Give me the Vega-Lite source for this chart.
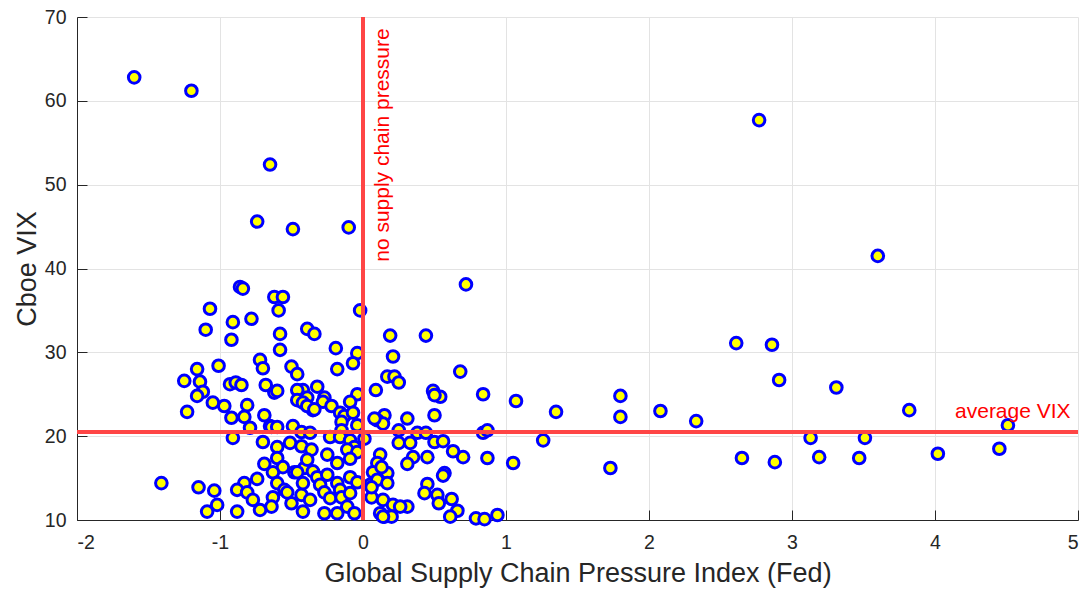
{
  "$schema": "https://vega.github.io/schema/vega-lite/v6.json",
  "width": 1001,
  "height": 503,
  "autosize": {"type": "none"},
  "padding": {"left": 77, "top": 17, "right": 11, "bottom": 71},
  "background": "white",
  "config": {
    "view": {"stroke": null},
    "font": "Liberation Sans",
    "axis": {
      "domainColor": "#262626",
      "domainWidth": 1,
      "tickColor": "#262626",
      "tickSize": -10,
      "labelColor": "#262626",
      "labelFont": "Liberation Sans",
      "labelFontSize": 19.5,
      "titleFont": "Liberation Sans",
      "titleFontSize": 27,
      "titleFontWeight": "normal",
      "titleColor": "#262626",
      "gridColor": "#e3e3e3",
      "gridWidth": 1
    }
  },
  "datasets": {
    "pts": [
      {"gscpi": -1.60, "vix": 62.8}, {"gscpi": -1.20, "vix": 61.2}, {"gscpi": -0.65, "vix": 52.4}, {"gscpi": -0.74, "vix": 45.6},
      {"gscpi": -0.49, "vix": 44.7}, {"gscpi": -0.10, "vix": 44.9}, {"gscpi": 2.77, "vix": 57.7}, {"gscpi": 3.60, "vix": 41.5},
      {"gscpi": 0.72, "vix": 38.1}, {"gscpi": -0.62, "vix": 36.6}, {"gscpi": -0.56, "vix": 36.6}, {"gscpi": -0.59, "vix": 35.0},
      {"gscpi": -0.02, "vix": 35.0}, {"gscpi": -0.86, "vix": 37.8}, {"gscpi": -0.84, "vix": 37.6}, {"gscpi": -1.07, "vix": 35.2},
      {"gscpi": -1.10, "vix": 32.7}, {"gscpi": -0.91, "vix": 33.6}, {"gscpi": -0.78, "vix": 34.0}, {"gscpi": -0.92, "vix": 31.5},
      {"gscpi": -0.58, "vix": 32.2}, {"gscpi": -0.39, "vix": 32.8}, {"gscpi": -0.34, "vix": 32.2}, {"gscpi": 0.19, "vix": 32.0},
      {"gscpi": 0.44, "vix": 32.0}, {"gscpi": -0.58, "vix": 30.3}, {"gscpi": -0.19, "vix": 30.5}, {"gscpi": -0.04, "vix": 29.9},
      {"gscpi": -0.07, "vix": 28.7}, {"gscpi": 0.21, "vix": 29.5}, {"gscpi": -0.50, "vix": 28.3}, {"gscpi": -0.46, "vix": 27.4},
      {"gscpi": -0.18, "vix": 28.0}, {"gscpi": -0.72, "vix": 29.1}, {"gscpi": -0.70, "vix": 28.1}, {"gscpi": -1.01, "vix": 28.4},
      {"gscpi": -1.16, "vix": 28.0}, {"gscpi": 0.68, "vix": 27.7}, {"gscpi": -1.25, "vix": 26.6}, {"gscpi": -1.14, "vix": 26.5},
      {"gscpi": -1.12, "vix": 25.3}, {"gscpi": -1.16, "vix": 24.8}, {"gscpi": -0.93, "vix": 26.2}, {"gscpi": -0.89, "vix": 26.4},
      {"gscpi": -0.85, "vix": 26.1}, {"gscpi": -0.68, "vix": 26.1}, {"gscpi": -1.05, "vix": 24.0}, {"gscpi": 0.17, "vix": 27.1},
      {"gscpi": 0.22, "vix": 27.1}, {"gscpi": 0.25, "vix": 26.4}, {"gscpi": 0.09, "vix": 25.5}, {"gscpi": 0.49, "vix": 25.4},
      {"gscpi": 0.54, "vix": 24.7}, {"gscpi": 0.50, "vix": 24.9}, {"gscpi": 0.84, "vix": 25.0}, {"gscpi": 1.07, "vix": 24.2},
      {"gscpi": -0.62, "vix": 25.2}, {"gscpi": -0.42, "vix": 25.5}, {"gscpi": -0.32, "vix": 25.9}, {"gscpi": -0.04, "vix": 25.0},
      {"gscpi": -0.46, "vix": 25.5}, {"gscpi": -0.39, "vix": 24.6}, {"gscpi": -0.27, "vix": 24.6}, {"gscpi": -0.09, "vix": 24.1},
      {"gscpi": -0.60, "vix": 25.4}, {"gscpi": -0.46, "vix": 24.3}, {"gscpi": -0.35, "vix": 23.1}, {"gscpi": -0.28, "vix": 24.1},
      {"gscpi": -1.23, "vix": 22.9}, {"gscpi": -0.97, "vix": 23.6}, {"gscpi": -0.81, "vix": 23.7}, {"gscpi": -0.92, "vix": 22.2},
      {"gscpi": -0.83, "vix": 22.3}, {"gscpi": -0.79, "vix": 21.0}, {"gscpi": -0.91, "vix": 19.8}, {"gscpi": -0.69, "vix": 22.5},
      {"gscpi": -0.65, "vix": 21.2}, {"gscpi": -0.70, "vix": 19.3}, {"gscpi": -0.42, "vix": 24.0}, {"gscpi": -0.39, "vix": 23.6},
      {"gscpi": -0.34, "vix": 23.2}, {"gscpi": -0.22, "vix": 23.6}, {"gscpi": -0.16, "vix": 22.8}, {"gscpi": -0.13, "vix": 22.4},
      {"gscpi": -0.07, "vix": 22.8}, {"gscpi": -0.15, "vix": 21.7}, {"gscpi": -0.15, "vix": 20.7}, {"gscpi": -0.04, "vix": 21.3},
      {"gscpi": 0.15, "vix": 22.5}, {"gscpi": 0.10, "vix": 21.9}, {"gscpi": 0.14, "vix": 21.5}, {"gscpi": 0.08, "vix": 22.1},
      {"gscpi": 0.31, "vix": 22.1}, {"gscpi": 0.50, "vix": 22.5}, {"gscpi": -0.64, "vix": 21.1}, {"gscpi": -0.60, "vix": 21.1},
      {"gscpi": -0.49, "vix": 21.2}, {"gscpi": -0.43, "vix": 20.5}, {"gscpi": -0.37, "vix": 20.4}, {"gscpi": -0.23, "vix": 19.9},
      {"gscpi": -0.16, "vix": 19.9}, {"gscpi": -0.09, "vix": 19.5}, {"gscpi": 0.01, "vix": 19.7}, {"gscpi": -0.06, "vix": 18.7},
      {"gscpi": -0.60, "vix": 18.7}, {"gscpi": -0.51, "vix": 19.2}, {"gscpi": -0.43, "vix": 18.8}, {"gscpi": -0.36, "vix": 18.4},
      {"gscpi": -0.11, "vix": 18.4}, {"gscpi": -0.04, "vix": 18.1}, {"gscpi": 0.25, "vix": 20.7}, {"gscpi": 0.38, "vix": 20.4},
      {"gscpi": 0.44, "vix": 20.4}, {"gscpi": 0.50, "vix": 19.3}, {"gscpi": 0.56, "vix": 19.4}, {"gscpi": 0.25, "vix": 19.2},
      {"gscpi": 0.33, "vix": 19.2}, {"gscpi": 0.84, "vix": 20.4}, {"gscpi": 0.87, "vix": 20.7},
      {"gscpi": -0.25, "vix": 17.8}, {"gscpi": -0.18, "vix": 16.8}, {"gscpi": -0.09, "vix": 17.3}, {"gscpi": 0.12, "vix": 17.8},
      {"gscpi": 0.10, "vix": 16.8}, {"gscpi": 0.17, "vix": 15.6}, {"gscpi": 0.07, "vix": 15.7}, {"gscpi": -0.60, "vix": 17.4},
      {"gscpi": -0.56, "vix": 16.3}, {"gscpi": -0.63, "vix": 15.7}, {"gscpi": -0.48, "vix": 15.7}, {"gscpi": -0.41, "vix": 16.2},
      {"gscpi": -0.35, "vix": 15.8}, {"gscpi": -0.32, "vix": 15.1}, {"gscpi": -0.25, "vix": 15.4}, {"gscpi": -0.18, "vix": 14.4},
      {"gscpi": -0.09, "vix": 15.1}, {"gscpi": -0.04, "vix": 14.5}, {"gscpi": 0.05, "vix": 14.2}, {"gscpi": 0.10, "vix": 14.8},
      {"gscpi": -0.60, "vix": 14.4}, {"gscpi": -0.55, "vix": 13.6}, {"gscpi": -0.63, "vix": 12.7}, {"gscpi": -0.50, "vix": 12.0},
      {"gscpi": -0.64, "vix": 11.6}, {"gscpi": -0.43, "vix": 13.0}, {"gscpi": -0.37, "vix": 12.4}, {"gscpi": -0.30, "vix": 14.2},
      {"gscpi": -0.27, "vix": 13.3}, {"gscpi": -0.23, "vix": 12.6}, {"gscpi": -0.16, "vix": 13.6}, {"gscpi": -0.15, "vix": 12.7},
      {"gscpi": -0.09, "vix": 13.2}, {"gscpi": -0.11, "vix": 11.6}, {"gscpi": -0.18, "vix": 10.8}, {"gscpi": -0.27, "vix": 10.8},
      {"gscpi": -0.42, "vix": 11.0}, {"gscpi": -0.06, "vix": 10.8}, {"gscpi": 0.06, "vix": 12.7}, {"gscpi": 0.14, "vix": 12.4},
      {"gscpi": 0.15, "vix": 10.4}, {"gscpi": 0.12, "vix": 10.8}, {"gscpi": 0.20, "vix": 10.4}, {"gscpi": 0.70, "vix": 17.5},
      {"gscpi": 0.87, "vix": 17.4}, {"gscpi": 1.05, "vix": 16.8}, {"gscpi": 0.63, "vix": 18.2}, {"gscpi": 0.45, "vix": 17.5},
      {"gscpi": 0.35, "vix": 17.5}, {"gscpi": 0.31, "vix": 16.7}, {"gscpi": 0.13, "vix": 16.3}, {"gscpi": 0.17, "vix": 14.4},
      {"gscpi": 0.57, "vix": 15.6}, {"gscpi": 0.56, "vix": 15.3}, {"gscpi": 0.45, "vix": 14.3}, {"gscpi": 0.43, "vix": 13.2},
      {"gscpi": 0.52, "vix": 13.0}, {"gscpi": 0.62, "vix": 12.5}, {"gscpi": 0.53, "vix": 12.0}, {"gscpi": 0.66, "vix": 11.1},
      {"gscpi": 0.61, "vix": 10.4}, {"gscpi": 0.79, "vix": 10.2}, {"gscpi": 0.85, "vix": 10.1}, {"gscpi": 0.94, "vix": 10.6},
      {"gscpi": 0.21, "vix": 11.8}, {"gscpi": 0.31, "vix": 11.6}, {"gscpi": 0.26, "vix": 11.6}, {"gscpi": 0.14, "vix": 10.4},
      {"gscpi": 0.06, "vix": 13.9}, {"gscpi": -0.69, "vix": 16.7}, {"gscpi": -0.39, "vix": 17.2}, {"gscpi": -1.41, "vix": 14.4},
      {"gscpi": -1.15, "vix": 13.9}, {"gscpi": -1.04, "vix": 13.5}, {"gscpi": -1.02, "vix": 11.8}, {"gscpi": -1.09, "vix": 11.0},
      {"gscpi": -0.88, "vix": 11.0}, {"gscpi": -0.83, "vix": 14.4}, {"gscpi": -0.88, "vix": 13.6}, {"gscpi": -0.74, "vix": 14.9},
      {"gscpi": -0.81, "vix": 13.3}, {"gscpi": -0.77, "vix": 12.4}, {"gscpi": -0.72, "vix": 11.2}, {"gscpi": -0.53, "vix": 13.3},
      {"gscpi": -0.46, "vix": 15.7}, {"gscpi": -0.42, "vix": 14.4},
      {"gscpi": 1.26, "vix": 19.5}, {"gscpi": 1.35, "vix": 22.9}, {"gscpi": 1.80, "vix": 24.8}, {"gscpi": 1.80, "vix": 22.3},
      {"gscpi": 2.08, "vix": 23.0}, {"gscpi": 2.33, "vix": 21.8}, {"gscpi": 1.73, "vix": 16.2}, {"gscpi": 2.61, "vix": 31.1},
      {"gscpi": 2.86, "vix": 30.9}, {"gscpi": 2.91, "vix": 26.7}, {"gscpi": 2.65, "vix": 17.4}, {"gscpi": 2.88, "vix": 16.9},
      {"gscpi": 3.13, "vix": 19.8}, {"gscpi": 3.19, "vix": 17.5}, {"gscpi": 3.31, "vix": 25.8}, {"gscpi": 3.51, "vix": 19.8},
      {"gscpi": 3.47, "vix": 17.4}, {"gscpi": 3.82, "vix": 23.1}, {"gscpi": 4.02, "vix": 17.9}, {"gscpi": 4.45, "vix": 18.5},
      {"gscpi": 4.51, "vix": 21.3}
    ],
    "notes": [
      {"gscpi": 0.14, "vix": 40.8, "label": "no supply chain pressure", "kind": "v"},
      {"gscpi": 4.14, "vix": 22.9, "label": "average VIX", "kind": "h"}
    ]
  },
  "layer": [
    {
      "data": {"name": "pts"},
      "mark": {"type": "point", "shape": "circle", "filled": false, "fill": "#ffff00", "fillOpacity": 1, "stroke": "#0000ff", "strokeWidth": 3, "size": 135, "opacity": 1},
      "encoding": {
        "x": {
          "field": "gscpi", "type": "quantitative",
          "scale": {"domain": [-2, 5], "nice": false, "zero": false},
          "axis": {"values": [-2, -1, 0, 1, 2, 3, 4, 5], "labelExpr": "'' + datum.value", "title": "Global Supply Chain Pressure Index (Fed)", "labelPadding": 23, "titlePadding": 9}
        },
        "y": {
          "field": "vix", "type": "quantitative",
          "scale": {"domain": [10, 70], "nice": false, "zero": false},
          "axis": {"values": [10, 20, 30, 40, 50, 60, 70], "labelExpr": "'' + datum.value", "title": "Cboe VIX", "labelPadding": 21, "titlePadding": 3}
        }
      }
    },
    {
      "data": {"values": [{"v": 0}]},
      "mark": {"type": "rule", "color": "#ff4545", "strokeWidth": 4},
      "encoding": {"x": {"field": "v", "type": "quantitative"}}
    },
    {
      "data": {"values": [{"v": 20.5}]},
      "mark": {"type": "rule", "color": "#ff4545", "strokeWidth": 4},
      "encoding": {"y": {"field": "v", "type": "quantitative"}}
    },
    {
      "data": {"name": "notes"},
      "transform": [{"filter": "datum.kind == 'v'"}],
      "mark": {"type": "text", "angle": 270, "align": "left", "baseline": "middle", "color": "#ff0000", "fontSize": 21, "font": "Liberation Sans"},
      "encoding": {
        "x": {"field": "gscpi", "type": "quantitative"},
        "y": {"field": "vix", "type": "quantitative"},
        "text": {"field": "label"}
      }
    },
    {
      "data": {"name": "notes"},
      "transform": [{"filter": "datum.kind == 'h'"}],
      "mark": {"type": "text", "align": "left", "baseline": "middle", "color": "#ff0000", "fontSize": 21, "font": "Liberation Sans"},
      "encoding": {
        "x": {"field": "gscpi", "type": "quantitative"},
        "y": {"field": "vix", "type": "quantitative"},
        "text": {"field": "label"}
      }
    }
  ]
}
